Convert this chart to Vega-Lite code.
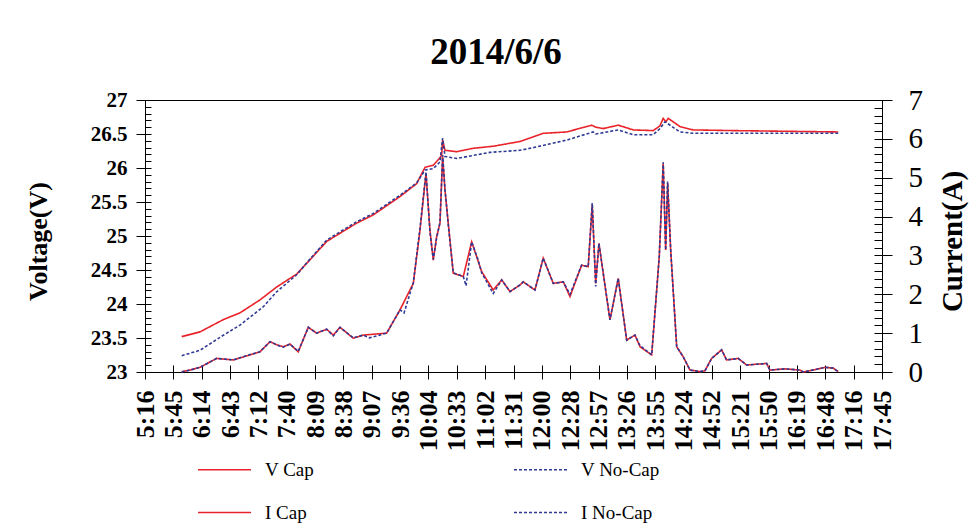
{
"$schema":"https://vega.github.io/schema/vega-lite/v6.json",
"width":737,"height":272,
"autosize":{"type":"none"},
"padding":{"left":145,"top":100,"right":95,"bottom":158},
"background":"white",
"title":{"text":"2014/6/6","fontSize":37,"fontWeight":"bold","font":"Liberation Serif","anchor":"middle","frame":"bounds","offset":14,"color":"black"},
"config":{"font":"Liberation Serif","view":{"stroke":"black","strokeWidth":1},"axis":{"grid":false,"domainColor":"black","tickColor":"black","labelColor":"black","titleColor":"black","domainWidth":1,"tickWidth":1,"labelFont":"Liberation Serif","titleFont":"Liberation Serif"}},
"data":{"values":[
{"s":"V Cap","t":354.1,"v":23.52},{"s":"V Cap","t":372.7,"v":23.59},{"s":"V Cap","t":396.3,"v":23.77},{"s":"V Cap","t":413.3,"v":23.87},{"s":"V Cap","t":433.6,"v":24.06},{"s":"V Cap","t":450.6,"v":24.25},{"s":"V Cap","t":470.9,"v":24.44},{"s":"V Cap","t":484.4,"v":24.65},{"s":"V Cap","t":501.4,"v":24.92},{"s":"V Cap","t":514.9,"v":25.04},{"s":"V Cap","t":531.9,"v":25.19},{"s":"V Cap","t":548.7,"v":25.31},{"s":"V Cap","t":575.9,"v":25.58},{"s":"V Cap","t":592.8,"v":25.77},{"s":"V Cap","t":601.3,"v":26.01},{"s":"V Cap","t":609.7,"v":26.04},{"s":"V Cap","t":616.5,"v":26.15},{"s":"V Cap","t":618.2,"v":26.19},{"s":"V Cap","t":619.2,"v":26.41},{"s":"V Cap","t":621.6,"v":26.26},{"s":"V Cap","t":633.5,"v":26.24},{"s":"V Cap","t":650.3,"v":26.29},{"s":"V Cap","t":670.6,"v":26.32},{"s":"V Cap","t":697.8,"v":26.39},{"s":"V Cap","t":721.4,"v":26.51},{"s":"V Cap","t":745.2,"v":26.53},{"s":"V Cap","t":770.6,"v":26.63},{"s":"V Cap","t":774.9,"v":26.6},{"s":"V Cap","t":782.4,"v":26.58},{"s":"V Cap","t":797.6,"v":26.63},{"s":"V Cap","t":812.9,"v":26.56},{"s":"V Cap","t":833.2,"v":26.55},{"s":"V Cap","t":840.0,"v":26.62},{"s":"V Cap","t":843.3,"v":26.73},{"s":"V Cap","t":846.1,"v":26.68},{"s":"V Cap","t":848.4,"v":26.73},{"s":"V Cap","t":860.3,"v":26.61},{"s":"V Cap","t":873.8,"v":26.56},{"s":"V Cap","t":914.5,"v":26.55},{"s":"V Cap","t":1021.1,"v":26.53},
{"s":"V No-Cap","t":354.1,"v":23.24},{"s":"V No-Cap","t":372.7,"v":23.32},{"s":"V No-Cap","t":396.3,"v":23.54},{"s":"V No-Cap","t":413.3,"v":23.69},{"s":"V No-Cap","t":437.0,"v":23.96},{"s":"V No-Cap","t":450.6,"v":24.18},{"s":"V No-Cap","t":470.9,"v":24.43},{"s":"V No-Cap","t":484.4,"v":24.66},{"s":"V No-Cap","t":501.4,"v":24.94},{"s":"V No-Cap","t":514.9,"v":25.06},{"s":"V No-Cap","t":531.9,"v":25.21},{"s":"V No-Cap","t":548.7,"v":25.33},{"s":"V No-Cap","t":575.9,"v":25.6},{"s":"V No-Cap","t":592.8,"v":25.78},{"s":"V No-Cap","t":601.3,"v":25.97},{"s":"V No-Cap","t":609.7,"v":25.99},{"s":"V No-Cap","t":616.5,"v":26.09},{"s":"V No-Cap","t":619.2,"v":26.44},{"s":"V No-Cap","t":621.6,"v":26.17},{"s":"V No-Cap","t":633.5,"v":26.14},{"s":"V No-Cap","t":667.3,"v":26.23},{"s":"V No-Cap","t":697.8,"v":26.26},{"s":"V No-Cap","t":711.3,"v":26.3},{"s":"V No-Cap","t":745.2,"v":26.41},{"s":"V No-Cap","t":772.2,"v":26.53},{"s":"V No-Cap","t":774.9,"v":26.5},{"s":"V No-Cap","t":782.4,"v":26.52},{"s":"V No-Cap","t":797.6,"v":26.56},{"s":"V No-Cap","t":812.9,"v":26.49},{"s":"V No-Cap","t":833.2,"v":26.49},{"s":"V No-Cap","t":840.0,"v":26.58},{"s":"V No-Cap","t":845.1,"v":26.68},{"s":"V No-Cap","t":860.3,"v":26.53},{"s":"V No-Cap","t":873.8,"v":26.51},{"s":"V No-Cap","t":1021.1,"v":26.51},
{"s":"I Cap","t":354.1,"v":0.01},{"s":"I Cap","t":362.5,"v":0.05},{"s":"I Cap","t":372.7,"v":0.12},{"s":"I Cap","t":389.6,"v":0.35},{"s":"I Cap","t":406.5,"v":0.31},{"s":"I Cap","t":423.5,"v":0.44},{"s":"I Cap","t":433.6,"v":0.52},{"s":"I Cap","t":443.8,"v":0.78},{"s":"I Cap","t":450.6,"v":0.7},{"s":"I Cap","t":457.3,"v":0.65},{"s":"I Cap","t":464.1,"v":0.72},{"s":"I Cap","t":472.5,"v":0.52},{"s":"I Cap","t":482.7,"v":1.15},{"s":"I Cap","t":491.2,"v":1.0},{"s":"I Cap","t":501.4,"v":1.1},{"s":"I Cap","t":508.1,"v":0.95},{"s":"I Cap","t":514.9,"v":1.15},{"s":"I Cap","t":528.4,"v":0.87},{"s":"I Cap","t":538.6,"v":0.95},{"s":"I Cap","t":562.3,"v":1.0},{"s":"I Cap","t":575.9,"v":1.6},{"s":"I Cap","t":589.4,"v":2.28},{"s":"I Cap","t":596.2,"v":3.65},{"s":"I Cap","t":602.3,"v":5.11},{"s":"I Cap","t":606.3,"v":3.65},{"s":"I Cap","t":609.7,"v":2.88},{"s":"I Cap","t":613.1,"v":3.48},{"s":"I Cap","t":616.5,"v":3.83},{"s":"I Cap","t":619.2,"v":5.54},{"s":"I Cap","t":621.6,"v":4.68},{"s":"I Cap","t":624.9,"v":3.83},{"s":"I Cap","t":630.0,"v":2.54},{"s":"I Cap","t":640.2,"v":2.46},{"s":"I Cap","t":648.7,"v":3.35},{"s":"I Cap","t":658.9,"v":2.58},{"s":"I Cap","t":670.6,"v":2.11},{"s":"I Cap","t":679.2,"v":2.37},{"s":"I Cap","t":687.6,"v":2.07},{"s":"I Cap","t":697.8,"v":2.24},{"s":"I Cap","t":701.1,"v":2.32},{"s":"I Cap","t":713.0,"v":2.11},{"s":"I Cap","t":721.4,"v":2.93},{"s":"I Cap","t":731.6,"v":2.28},{"s":"I Cap","t":741.8,"v":2.32},{"s":"I Cap","t":748.6,"v":1.94},{"s":"I Cap","t":760.4,"v":2.75},{"s":"I Cap","t":767.1,"v":2.71},{"s":"I Cap","t":771.2,"v":4.3},{"s":"I Cap","t":774.7,"v":2.28},{"s":"I Cap","t":778.0,"v":3.31},{"s":"I Cap","t":789.2,"v":1.34},{"s":"I Cap","t":797.6,"v":2.41},{"s":"I Cap","t":806.2,"v":0.82},{"s":"I Cap","t":814.6,"v":0.95},{"s":"I Cap","t":819.7,"v":0.65},{"s":"I Cap","t":831.6,"v":0.44},{"s":"I Cap","t":839.3,"v":2.97},{"s":"I Cap","t":843.3,"v":5.37},{"s":"I Cap","t":845.8,"v":3.14},{"s":"I Cap","t":847.8,"v":4.86},{"s":"I Cap","t":850.9,"v":3.14},{"s":"I Cap","t":857.0,"v":0.65},{"s":"I Cap","t":863.7,"v":0.39},{"s":"I Cap","t":870.5,"v":0.05},{"s":"I Cap","t":880.6,"v":0.01},{"s":"I Cap","t":885.7,"v":0.03},{"s":"I Cap","t":892.5,"v":0.35},{"s":"I Cap","t":902.7,"v":0.57},{"s":"I Cap","t":907.7,"v":0.31},{"s":"I Cap","t":919.5,"v":0.35},{"s":"I Cap","t":928.1,"v":0.18},{"s":"I Cap","t":948.4,"v":0.22},{"s":"I Cap","t":951.7,"v":0.05},{"s":"I Cap","t":966.9,"v":0.08},{"s":"I Cap","t":982.2,"v":0.05},{"s":"I Cap","t":985.6,"v":0.0},{"s":"I Cap","t":997.4,"v":0.06},{"s":"I Cap","t":1007.6,"v":0.12},{"s":"I Cap","t":1016.0,"v":0.1},{"s":"I Cap","t":1021.1,"v":0.01},
{"s":"I No-Cap","t":354.1,"v":0.0},{"s":"I No-Cap","t":362.5,"v":0.05},{"s":"I No-Cap","t":372.7,"v":0.12},{"s":"I No-Cap","t":389.6,"v":0.35},{"s":"I No-Cap","t":406.5,"v":0.31},{"s":"I No-Cap","t":423.5,"v":0.45},{"s":"I No-Cap","t":433.6,"v":0.52},{"s":"I No-Cap","t":443.8,"v":0.78},{"s":"I No-Cap","t":450.6,"v":0.7},{"s":"I No-Cap","t":457.3,"v":0.64},{"s":"I No-Cap","t":464.1,"v":0.72},{"s":"I No-Cap","t":472.5,"v":0.53},{"s":"I No-Cap","t":482.7,"v":1.15},{"s":"I No-Cap","t":491.2,"v":1.0},{"s":"I No-Cap","t":501.4,"v":1.1},{"s":"I No-Cap","t":508.1,"v":0.93},{"s":"I No-Cap","t":514.9,"v":1.15},{"s":"I No-Cap","t":528.4,"v":0.88},{"s":"I No-Cap","t":538.6,"v":0.95},{"s":"I No-Cap","t":545.0,"v":0.88},{"s":"I No-Cap","t":562.3,"v":1.0},{"s":"I No-Cap","t":575.9,"v":1.6},{"s":"I No-Cap","t":580.0,"v":1.52},{"s":"I No-Cap","t":589.4,"v":2.3},{"s":"I No-Cap","t":596.2,"v":3.7},{"s":"I No-Cap","t":602.3,"v":5.15},{"s":"I No-Cap","t":606.3,"v":3.6},{"s":"I No-Cap","t":609.7,"v":2.9},{"s":"I No-Cap","t":613.1,"v":3.45},{"s":"I No-Cap","t":616.5,"v":3.85},{"s":"I No-Cap","t":619.2,"v":5.58},{"s":"I No-Cap","t":621.6,"v":4.7},{"s":"I No-Cap","t":624.9,"v":3.8},{"s":"I No-Cap","t":630.0,"v":2.55},{"s":"I No-Cap","t":640.2,"v":2.46},{"s":"I No-Cap","t":643.0,"v":2.22},{"s":"I No-Cap","t":648.7,"v":3.35},{"s":"I No-Cap","t":655.0,"v":2.9},{"s":"I No-Cap","t":658.9,"v":2.55},{"s":"I No-Cap","t":670.6,"v":2.02},{"s":"I No-Cap","t":679.2,"v":2.37},{"s":"I No-Cap","t":687.6,"v":2.07},{"s":"I No-Cap","t":697.8,"v":2.24},{"s":"I No-Cap","t":701.1,"v":2.32},{"s":"I No-Cap","t":713.0,"v":2.11},{"s":"I No-Cap","t":721.4,"v":2.93},{"s":"I No-Cap","t":731.6,"v":2.28},{"s":"I No-Cap","t":741.8,"v":2.32},{"s":"I No-Cap","t":748.6,"v":2.0},{"s":"I No-Cap","t":760.4,"v":2.75},{"s":"I No-Cap","t":767.1,"v":2.71},{"s":"I No-Cap","t":771.2,"v":4.35},{"s":"I No-Cap","t":774.7,"v":2.2},{"s":"I No-Cap","t":778.0,"v":3.31},{"s":"I No-Cap","t":789.2,"v":1.34},{"s":"I No-Cap","t":797.6,"v":2.41},{"s":"I No-Cap","t":806.2,"v":0.82},{"s":"I No-Cap","t":814.6,"v":0.95},{"s":"I No-Cap","t":819.7,"v":0.68},{"s":"I No-Cap","t":831.6,"v":0.44},{"s":"I No-Cap","t":839.3,"v":2.97},{"s":"I No-Cap","t":843.3,"v":5.4},{"s":"I No-Cap","t":845.8,"v":3.14},{"s":"I No-Cap","t":847.8,"v":4.9},{"s":"I No-Cap","t":850.9,"v":3.14},{"s":"I No-Cap","t":857.0,"v":0.65},{"s":"I No-Cap","t":863.7,"v":0.39},{"s":"I No-Cap","t":870.5,"v":0.05},{"s":"I No-Cap","t":880.6,"v":0.01},{"s":"I No-Cap","t":885.7,"v":0.03},{"s":"I No-Cap","t":892.5,"v":0.35},{"s":"I No-Cap","t":902.7,"v":0.57},{"s":"I No-Cap","t":907.7,"v":0.31},{"s":"I No-Cap","t":919.5,"v":0.35},{"s":"I No-Cap","t":928.1,"v":0.18},{"s":"I No-Cap","t":948.4,"v":0.22},{"s":"I No-Cap","t":951.7,"v":0.05},{"s":"I No-Cap","t":966.9,"v":0.08},{"s":"I No-Cap","t":982.2,"v":0.05},{"s":"I No-Cap","t":985.6,"v":0.0},{"s":"I No-Cap","t":997.4,"v":0.06},{"s":"I No-Cap","t":1007.6,"v":0.12},{"s":"I No-Cap","t":1016.0,"v":0.1},{"s":"I No-Cap","t":1021.1,"v":0.01}
]},
"layer":[
{"layer":[
 {"transform":[{"filter":{"field":"s","oneOf":["V Cap","V No-Cap"]}}],
  "mark":{"type":"line","strokeWidth":1.6},
  "encoding":{
   "x":{"field":"t","type":"quantitative","scale":{"domain":[316.8,1065.6],"nice":false,"zero":false},
        "axis":{"orient":"bottom","title":null,"values":[316.8,345.6,374.4,403.2,432,460.8,489.6,518.4,547.2,576,604.8,633.6,662.4,691.2,720,748.8,777.6,806.4,835.2,864,892.8,921.6,950.4,979.2,1008,1036.8,1065.6],
        "labelExpr":"floor(datum.value/60+0.000001)+':'+(floor(datum.value%60+0.000001)<10?'0':'')+floor(datum.value%60+0.000001)",
        "labelAngle":-90,"labelAlign":"right","labelBaseline":"middle","labelFontSize":26,"labelFontWeight":"bold","labelOverlap":false,"labelFlush":false,"labelPadding":11,"tickSize":7}},
   "y":{"field":"v","type":"quantitative","scale":{"domain":[23,27],"nice":false,"zero":false},
        "axis":{"orient":"left","values":[23,23.5,24,24.5,25,25.5,26,26.5,27],"format":"~g","title":"Voltage(V)","titleFontSize":26,"titleFontWeight":"bold","titleAngle":-90,"titleAlign":"center","titleBaseline":"middle","titleX":-107,"titleY":141,
        "labelFontSize":21,"labelFontWeight":"bold","labelPadding":9,"tickSize":9,"labelOverlap":false}},
   "color":{"field":"s","type":"nominal","scale":{"domain":["V Cap","I Cap","V No-Cap","I No-Cap"],"range":["#e8232a","#e8232a","#2f3a95","#2f3a95"]},
        "legend":{"title":null,"orient":"none","legendX":52,"legendY":342,"columns":2,"columnPadding":196,"rowPadding":5,"symbolType":"stroke","symbolSize":2809,"symbolStrokeWidth":1.5,"labelFontSize":19,"labelFont":"Liberation Serif","labelColor":"black","labelOffset":13,"padding":0,"labelLimit":300}},
   "strokeDash":{"field":"s","type":"nominal","scale":{"domain":["V Cap","I Cap","V No-Cap","I No-Cap"],"range":[[1,0],[1,0],[3,2],[3,2]]},
        "legend":{"title":null,"orient":"none","legendX":52,"legendY":342,"columns":2,"columnPadding":196,"rowPadding":5,"symbolType":"stroke","symbolSize":2809,"symbolStrokeWidth":1.5,"labelFontSize":19,"labelFont":"Liberation Serif","labelColor":"black","labelOffset":13,"padding":0,"labelLimit":300}}
  }},
 {"transform":[{"filter":{"field":"s","oneOf":["V Cap","V No-Cap"]}}],
  "mark":{"type":"line","strokeOpacity":0},
  "encoding":{
   "x":{"field":"t","type":"quantitative","scale":{"domain":[316.8,1065.6],"nice":false,"zero":false},
        "axis":{"orient":"bottom","title":null,"labels":false,"domain":false,"tickSize":7,"offset":-7,"values":[316.8,345.6,374.4,403.2,432,460.8,489.6,518.4,547.2,576,604.8,633.6,662.4,691.2,720,748.8,777.6,806.4,835.2,864,892.8,921.6,950.4,979.2,1008,1036.8,1065.6]}},
   "y":{"field":"v","type":"quantitative","scale":{"domain":[23,27],"nice":false,"zero":false},
        "axis":{"orient":"left","title":null,"labels":false,"domain":false,"tickSize":6,"offset":-6,"values":[23,23.1,23.2,23.3,23.4,23.5,23.6,23.7,23.8,23.9,24,24.1,24.2,24.3,24.4,24.5,24.6,24.7,24.8,24.9,25,25.1,25.2,25.3,25.4,25.5,25.6,25.7,25.8,25.9,26,26.1,26.2,26.3,26.4,26.5,26.6,26.7,26.8,26.9,27]}}
  }}
 ],
 "resolve":{"axis":{"x":"independent","y":"independent"}}
},
{"layer":[
 {"transform":[{"filter":{"field":"s","oneOf":["I Cap","I No-Cap"]}}],
  "mark":{"type":"line","strokeWidth":1.6},
  "encoding":{
   "x":{"field":"t","type":"quantitative","scale":{"domain":[316.8,1065.6],"nice":false,"zero":false},"axis":null},
   "y":{"field":"v","type":"quantitative","scale":{"domain":[0,7],"nice":false,"zero":false},
        "axis":{"orient":"right","values":[0,1,2,3,4,5,6,7],"title":"Current(A)","titleFontSize":29,"titleFontWeight":"bold","titleAngle":-90,"titleAlign":"center","titleBaseline":"middle","titleX":70,"titleY":141,
        "labelFontSize":29,"labelFontWeight":"normal","labelPadding":16,"tickSize":10,"labelOverlap":false}},
   "color":{"field":"s","type":"nominal","scale":{"domain":["V Cap","I Cap","V No-Cap","I No-Cap"],"range":["#e8232a","#e8232a","#2f3a95","#2f3a95"]},
        "legend":{"title":null,"orient":"none","legendX":52,"legendY":342,"columns":2,"columnPadding":196,"rowPadding":5,"symbolType":"stroke","symbolSize":2809,"symbolStrokeWidth":1.5,"labelFontSize":19,"labelFont":"Liberation Serif","labelColor":"black","labelOffset":13,"padding":0,"labelLimit":300}},
   "strokeDash":{"field":"s","type":"nominal","scale":{"domain":["V Cap","I Cap","V No-Cap","I No-Cap"],"range":[[1,0],[1,0],[3,2],[3,2]]},
        "legend":{"title":null,"orient":"none","legendX":52,"legendY":342,"columns":2,"columnPadding":196,"rowPadding":5,"symbolType":"stroke","symbolSize":2809,"symbolStrokeWidth":1.5,"labelFontSize":19,"labelFont":"Liberation Serif","labelColor":"black","labelOffset":13,"padding":0,"labelLimit":300}}
  }},
 {"transform":[{"filter":{"field":"s","oneOf":["I Cap","I No-Cap"]}}],
  "mark":{"type":"line","strokeOpacity":0},
  "encoding":{
   "x":{"field":"t","type":"quantitative","scale":{"domain":[316.8,1065.6],"nice":false,"zero":false},"axis":null},
   "y":{"field":"v","type":"quantitative","scale":{"domain":[0,7],"nice":false,"zero":false},
        "axis":{"orient":"right","title":null,"labels":false,"domain":false,"tickSize":8,"offset":-8,"values":[0,0.2,0.4,0.6,0.8,1,1.2,1.4,1.6,1.8,2,2.2,2.4,2.6,2.8,3,3.2,3.4,3.6,3.8,4,4.2,4.4,4.6,4.8,5,5.2,5.4,5.6,5.8,6,6.2,6.4,6.6,6.8,7]}}
  }}
 ],
 "resolve":{"axis":{"y":"independent"}}
}
],
"resolve":{"scale":{"y":"independent"},"axis":{"y":"independent"}}
}
